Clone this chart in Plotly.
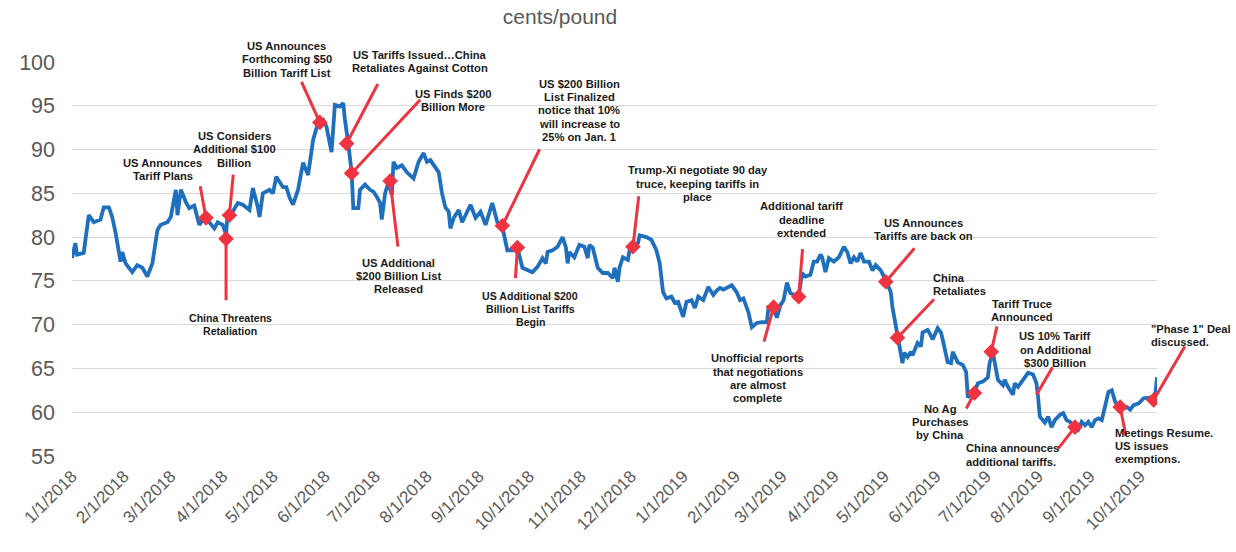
import plotly.graph_objects as go

# ---------------- data ----------------
price_dates = [
    "2018-01-01", "2018-01-03", "2018-01-04", "2018-01-08", "2018-01-11", "2018-01-14", "2018-01-18",
    "2018-01-20", "2018-01-23", "2018-01-25", "2018-01-27", "2018-01-30", "2018-01-31", "2018-02-02",
    "2018-02-06", "2018-02-09", "2018-02-12", "2018-02-15", "2018-02-18", "2018-02-21", "2018-02-23",
    "2018-02-27", "2018-03-01", "2018-03-04", "2018-03-05", "2018-03-07", "2018-03-10", "2018-03-12",
    "2018-03-15", "2018-03-18", "2018-03-21", "2018-03-24", "2018-03-27", "2018-03-29", "2018-04-01",
    "2018-04-03", "2018-04-04", "2018-04-07", "2018-04-10", "2018-04-13", "2018-04-17", "2018-04-19",
    "2018-04-22", "2018-04-23", "2018-04-25", "2018-04-29", "2018-05-01", "2018-05-03", "2018-05-07",
    "2018-05-09", "2018-05-11", "2018-05-13", "2018-05-16", "2018-05-19", "2018-05-22", "2018-05-25",
    "2018-05-28", "2018-05-31", "2018-06-02", "2018-06-05", "2018-06-07", "2018-06-10", "2018-06-12",
    "2018-06-13", "2018-06-15", "2018-06-17", "2018-06-18", "2018-06-21", "2018-06-22", "2018-06-25",
    "2018-06-28", "2018-06-30", "2018-07-02", "2018-07-04", "2018-07-05", "2018-07-07", "2018-07-09",
    "2018-07-11", "2018-07-12", "2018-07-14", "2018-07-17", "2018-07-20", "2018-07-24", "2018-07-27",
    "2018-07-30", "2018-08-01", "2018-08-03", "2018-08-05", "2018-08-08", "2018-08-10", "2018-08-12",
    "2018-08-14", "2018-08-15", "2018-08-17", "2018-08-20", "2018-08-22", "2018-08-25", "2018-08-27",
    "2018-08-30", "2018-09-02", "2018-09-05", "2018-09-07", "2018-09-09", "2018-09-12", "2018-09-15",
    "2018-09-18", "2018-09-21", "2018-09-23", "2018-09-24", "2018-09-27", "2018-09-30", "2018-10-03",
    "2018-10-06", "2018-10-09", "2018-10-11", "2018-10-12", "2018-10-15", "2018-10-18", "2018-10-21",
    "2018-10-23", "2018-10-24", "2018-10-25", "2018-10-28", "2018-10-31", "2018-11-03", "2018-11-05",
    "2018-11-06", "2018-11-08", "2018-11-11", "2018-11-14", "2018-11-17", "2018-11-20", "2018-11-21",
    "2018-11-23", "2018-11-24", "2018-11-26", "2018-11-29", "2018-11-30", "2018-12-02", "2018-12-05",
    "2018-12-06", "2018-12-10", "2018-12-13", "2018-12-16", "2018-12-18", "2018-12-20", "2018-12-22",
    "2018-12-25", "2018-12-27", "2018-12-29",
    "2019-01-01", "2019-01-03", "2019-01-06", "2019-01-08", "2019-01-10", "2019-01-13", "2019-01-16",
    "2019-01-19", "2019-01-21", "2019-01-23", "2019-01-25", "2019-01-28", "2019-01-30", "2019-02-02",
    "2019-02-04", "2019-02-06", "2019-02-09", "2019-02-11", "2019-02-14", "2019-02-17", "2019-02-20",
    "2019-02-21", "2019-02-24", "2019-02-26", "2019-02-28", "2019-03-02", "2019-03-04", "2019-03-06",
    "2019-03-09", "2019-03-11", "2019-03-13", "2019-03-15", "2019-03-18", "2019-03-20", "2019-03-22",
    "2019-03-24", "2019-03-25", "2019-03-27", "2019-03-29", "2019-04-01", "2019-04-04", "2019-04-07",
    "2019-04-09", "2019-04-11", "2019-04-13", "2019-04-15", "2019-04-17", "2019-04-19", "2019-04-22",
    "2019-04-24", "2019-04-26", "2019-04-29", "2019-05-02", "2019-05-05", "2019-05-06", "2019-05-09",
    "2019-05-12", "2019-05-13", "2019-05-15", "2019-05-17", "2019-05-18", "2019-05-21", "2019-05-23",
    "2019-05-24", "2019-05-27", "2019-05-28", "2019-05-30", "2019-06-02", "2019-06-04", "2019-06-05",
    "2019-06-08", "2019-06-10", "2019-06-11", "2019-06-14", "2019-06-17", "2019-06-19", "2019-06-20",
    "2019-06-23", "2019-06-24", "2019-06-26", "2019-06-29", "2019-07-02", "2019-07-03", "2019-07-05",
    "2019-07-06", "2019-07-08", "2019-07-11", "2019-07-12", "2019-07-14", "2019-07-17", "2019-07-18",
    "2019-07-20", "2019-07-23", "2019-07-26", "2019-07-29", "2019-07-31", "2019-08-01", "2019-08-02",
    "2019-08-05", "2019-08-07", "2019-08-09", "2019-08-11", "2019-08-14", "2019-08-16", "2019-08-18",
    "2019-08-20", "2019-08-23", "2019-08-25", "2019-08-27", "2019-08-29", "2019-08-31", "2019-09-02",
    "2019-09-04", "2019-09-06", "2019-09-08", "2019-09-10", "2019-09-12", "2019-09-14", "2019-09-16",
    "2019-09-18", "2019-09-21", "2019-09-23", "2019-09-25", "2019-09-27", "2019-09-30", "2019-10-03",
    "2019-10-06", "2019-10-08", "2019-10-10", "2019-10-11",
]
price_values = [
    77.6, 79.3, 78.0, 78.2, 82.5, 81.7, 82.0,
    83.4, 83.4, 82.3, 80.5, 77.2, 78.3, 77.0,
    76.0, 76.8, 76.5, 75.5, 77.0, 80.8, 81.4,
    81.7, 82.3, 85.4, 82.5, 85.4, 84.0, 83.3,
    83.6, 81.4, 82.2, 81.7, 81.0, 81.7, 81.4,
    80.3, 82.8, 82.9, 83.9, 83.7, 83.1, 85.6,
    83.4, 82.3, 85.0, 85.4, 85.0, 86.9, 85.7,
    85.7, 84.5, 83.7, 85.4, 88.5, 87.1, 91.1,
    93.1, 93.4, 92.6, 89.7, 95.1, 94.9, 95.3,
    93.4, 90.7, 87.4, 83.3, 83.3, 85.4, 86.0,
    85.4, 85.2, 84.6, 83.9, 82.0, 85.0, 86.3,
    84.8, 88.6, 87.9, 88.2, 87.4, 86.7, 88.6,
    89.6, 88.6, 88.8, 88.2, 87.4, 85.0, 83.4,
    82.9, 81.0, 82.2, 83.1, 81.7, 82.9, 83.7,
    82.2, 82.9, 81.4, 82.8, 83.9, 81.7, 81.2,
    78.5, 78.5, 79.1, 78.8, 76.5, 76.2, 76.0,
    76.6, 77.6, 77.0, 78.3, 78.5, 78.9, 80.0,
    78.8, 77.0, 78.3, 77.7, 79.1, 78.9, 77.6,
    79.1, 78.8, 76.5, 75.9, 75.9, 75.3, 76.5,
    74.9, 76.5, 77.7, 77.4, 78.5, 78.9, 79.3,
    80.2, 80.0, 79.7, 78.5, 77.0, 73.7, 73.0,
    73.2, 72.5, 72.6,
    70.9, 72.6, 72.8, 71.9, 73.2, 72.8, 74.3,
    73.4, 73.9, 74.2, 74.0, 74.3, 74.5, 73.7,
    72.8, 73.0, 71.4, 69.7, 70.2, 70.3, 70.3,
    72.0, 71.9, 70.8, 72.2, 72.8, 74.8, 73.6,
    73.4, 73.2, 75.9, 75.5, 75.7, 77.2, 77.2,
    78.0, 77.7, 76.0, 77.6, 77.2, 77.7, 78.9,
    78.3, 77.0, 77.7, 77.2, 78.2, 77.2, 77.2,
    76.2, 76.8, 76.2, 75.1, 73.7, 72.0, 68.6,
    65.6, 66.8, 66.3, 66.9, 66.5, 67.9, 67.5,
    69.1, 69.4, 69.1, 68.3, 69.6, 69.1, 68.3,
    65.7, 65.6, 66.9, 65.7, 65.4, 64.6, 61.7,
    62.2, 62.3, 63.3, 63.5, 64.0, 65.6, 66.8,
    65.7, 63.7, 63.1, 63.7, 62.9, 62.0, 63.3,
    62.9, 63.7, 64.5, 64.3, 63.3, 61.7, 59.5,
    58.8, 59.5, 58.3, 59.1, 59.7, 59.9, 59.1,
    58.9, 58.3, 58.0, 58.9, 58.5, 58.9, 58.3,
    59.1, 59.3, 59.1, 60.6, 62.3, 62.5, 61.2,
    60.6, 60.5, 60.6, 60.3, 60.8, 61.0, 61.6,
    61.7, 61.7, 62.0, 64.0,
]

event_dates = [
    "2018-03-22", "2018-04-05", "2018-04-03", "2018-05-29", "2018-06-14",
    "2018-06-17", "2018-07-10", "2018-09-15", "2018-09-24", "2018-12-02",
    "2019-02-24", "2019-03-11", "2019-05-02", "2019-05-09", "2019-06-24",
    "2019-07-04", "2019-07-31", "2019-08-23", "2019-09-19", "2019-10-09",
]
event_values = [
    82.2, 82.5, 79.8, 93.1, 90.7,
    87.3, 86.4, 81.3, 78.8, 78.9,
    72.0, 73.2, 74.9, 68.5, 62.2,
    66.9, 62.0, 58.3, 60.6, 61.4,
]
event_labels = [
    ["US Announces", "Tariff Plans"],
    ["US Considers", "Additional $100", "Billion"],
    ["China Threatens", "Retaliation"],
    ["US Announces", "Forthcoming $50", "Billion Tariff List"],
    ["US Tariffs Issued…China", "Retaliates Against Cotton"],
    ["US Finds $200", "Billion More"],
    ["US Additional", "$200 Billion List", "Released"],
    ["US $200 Billion", "List Finalized", "notice that 10%", "will increase to", "25% on Jan. 1"],
    ["US Additional $200", "Billion List Tariffs", "Begin"],
    ["Trump-Xi negotiate 90 day", "truce, keeping tariffs in", "place"],
    ["Unofficial reports", "that negotiations", "are almost", "complete"],
    ["Additional tariff", "deadline", "extended"],
    ["US Announces", "Tariffs are back on"],
    ["China", "Retaliates"],
    ["No Ag", "Purchases", "by China"],
    ["Tariff Truce", "Announced"],
    ["US 10% Tariff", "on Additional", "$300 Billion"],
    ["China announces", "additional tariffs."],
    ["Meetings Resume.", "US issues", "exemptions."],
    ["\"Phase 1\" Deal", "discussed."],
]

month_ticks = [
    "2018-01-01", "2018-02-01", "2018-03-01", "2018-04-01", "2018-05-01", "2018-06-01",
    "2018-07-01", "2018-08-01", "2018-09-01", "2018-10-01", "2018-11-01", "2018-12-01",
    "2019-01-01", "2019-02-01", "2019-03-01", "2019-04-01", "2019-05-01", "2019-06-01",
    "2019-07-01", "2019-08-01", "2019-09-01", "2019-10-01",
]
y_ticks = [55, 60, 65, 70, 75, 80, 85, 90, 95, 100]

# ---------------- callout layout (pixel offsets from each event point) ----------------
callout_arrow = [(-6, -33), (4, -42), (0, 63), (-19, -42), (32, -61),
                 (70, -75), (8, 67), (38, -78), (-2, 32), (6, -52),
                 (-10, 36), (4, -49), (30, -35), (38, -40), (-9, 17),
                 (6, -27), (17, -29), (-18, 23), (6, 30), (32, -55)]
callout_text = [(-43, 48.5), (5, 66), (4, -85.5), (-33, 63), (73, 82),
                (101, 72.5), (8, -95), (77, 115.5), (13, -61.5), (65, 63),
                (-16, -71), (3, 77), (38, 52.5), (34, 53.5), (-34, -29),
                (31, 41.5), (19, 45), (-111, -28), (-7, -39), (-5, 64.5)]
callout_anchor = ["center"] * 13 + ["left", "center", "center", "center", "left", "left", "left"]
callout_size = [11.2, 11.2, 10.6, 11.2, 11.2, 11.2, 11.2, 11.2, 10.6, 11.2,
                11.2, 11.2, 11.2, 11.2, 11.2, 11.2, 11.2, 11.2, 11.2, 11.2]
callout_marker = [True] * 16 + [False] + [True] * 3

LINE_BLUE = "#1F6FBF"
RED = "#EF3340"
GREY = "#595959"
LINE_GAP = 13.3

fig = go.Figure()
fig.add_trace(go.Scatter(
    x=price_dates, y=price_values, mode="lines",
    line=dict(color=LINE_BLUE, width=3.8), hoverinfo="x+y", showlegend=False,
))

mk_x = [d for d, m in zip(event_dates, callout_marker) if m]
mk_y = [v for v, m in zip(event_values, callout_marker) if m]
fig.add_trace(go.Scatter(
    x=mk_x, y=mk_y, mode="markers",
    marker=dict(symbol="diamond", size=12, color=RED, line=dict(width=0)),
    showlegend=False, hoverinfo="skip",
))

annotations = []
for i, (d, v, lines) in enumerate(zip(event_dates, event_values, event_labels)):
    ax, ay = callout_arrow[i]
    annotations.append(dict(
        x=d, y=v, xref="x", yref="y", text="", showarrow=True,
        ax=ax, ay=ay, arrowhead=0, arrowwidth=3, arrowcolor=RED,
        standoff=0, startstandoff=0,
    ))
    tdx, tdy = callout_text[i]
    n = len(lines)
    for j, line in enumerate(lines):
        annotations.append(dict(
            x=d, y=v, xref="x", yref="y", text="<b>" + line + "</b>",
            showarrow=False, xanchor=callout_anchor[i], yanchor="middle",
            align=callout_anchor[i],
            xshift=tdx, yshift=tdy + ((n - 1) / 2 - j) * LINE_GAP,
            font=dict(family="Liberation Sans, Arial, sans-serif",
                      size=callout_size[i], color="#1A1A1A"),
        ))

fig.update_layout(
    width=1236, height=552,
    margin=dict(l=72, r=79, t=62, b=96),
    paper_bgcolor="white", plot_bgcolor="white",
    font=dict(family="Liberation Sans, Arial, sans-serif", color=GREY),
    title=dict(text="cents/pound", x=560 / 1236, xanchor="center", xref="container",
               y=1 - 17 / 552, yanchor="middle", yref="container",
               font=dict(size=21, color=GREY)),
    annotations=annotations,
    xaxis=dict(
        type="date", range=["2018-01-01", "2019-10-11"],
        tickvals=month_ticks, tickformat="%-m/%-d/%Y", tickangle=-45,
        tickfont=dict(size=17, color=GREY), showgrid=False, zeroline=False,
        showline=False, ticks="", ticklabelstandoff=6,
    ),
    yaxis=dict(
        range=[55, 100], tickvals=y_ticks, tickfont=dict(size=21.5, color=GREY),
        showgrid=True, gridcolor="#D9D9D9", gridwidth=1, zeroline=False,
        showline=False, ticks="", ticklabelstandoff=16,
    ),
    hovermode="closest",
)

fig.write_html(
    "out.html",
    config={"displayModeBar": False},
    post_script="document.body.style.margin='0';document.body.style.padding='0';",
)
